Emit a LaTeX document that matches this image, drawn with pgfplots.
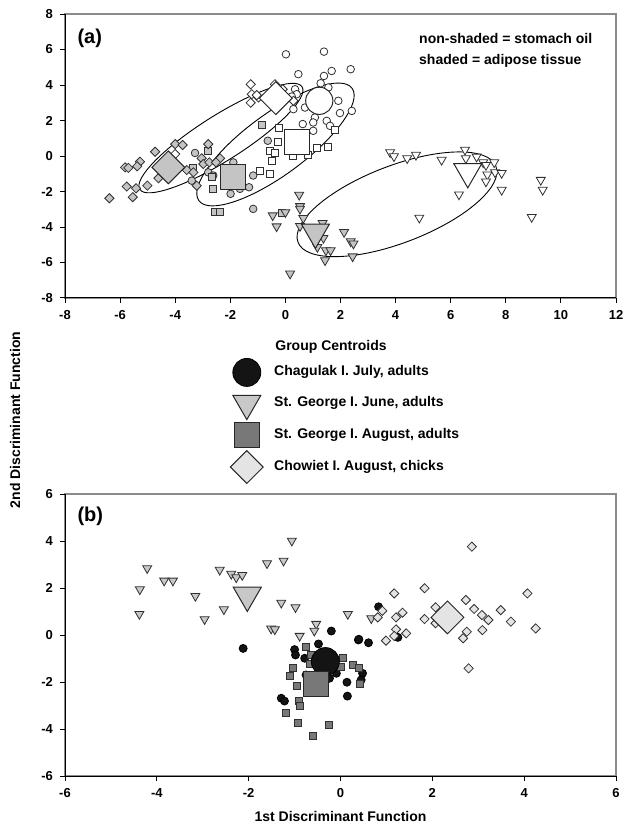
\documentclass[border=0pt]{standalone}
\usepackage{pgfplots}
\pgfplotsset{compat=1.18}
\usepackage{fontspec}
\setmainfont{Liberation Sans}

\definecolor{shd}{HTML}{C4C4C4}
\definecolor{edg}{HTML}{303030}
\definecolor{btri}{HTML}{C8C8C8}
\definecolor{bsq}{HTML}{787878}
\definecolor{bdia}{HTML}{E4E4E4}
\definecolor{frm}{HTML}{8C8C8C}

% down-pointing triangle and square diamond
\pgfdeclareplotmark{dtri}{%
  \pgfpathmoveto{\pgfqpoint{0pt}{-\pgfplotmarksize}}%
  \pgfpathlineto{\pgfqpoint{0.866\pgfplotmarksize}{0.5\pgfplotmarksize}}%
  \pgfpathlineto{\pgfqpoint{-0.866\pgfplotmarksize}{0.5\pgfplotmarksize}}%
  \pgfpathclose\pgfusepathqfillstroke}
\pgfdeclareplotmark{dmnd}{%
  \pgfpathmoveto{\pgfqpoint{0pt}{\pgfplotmarksize}}%
  \pgfpathlineto{\pgfqpoint{\pgfplotmarksize}{0pt}}%
  \pgfpathlineto{\pgfqpoint{0pt}{-\pgfplotmarksize}}%
  \pgfpathlineto{\pgfqpoint{-\pgfplotmarksize}{0pt}}%
  \pgfpathclose\pgfusepathqfillstroke}

\tikzset{ell/.style={black,line width=0.45pt}}
\pgfplotsset{
  panel/.style={
    scale only axis, width=275.5pt,
    axis lines*=left, tick align=outside, major tick length=2.5pt,
    axis line style={black,line width=0.5pt},
    tick style={black,line width=0.5pt},
    axis background/.style={draw=frm,line width=0.8pt},
    ticklabel style={font=\bfseries\fontsize{6.5}{7.5}\selectfont},
    /pgf/number format/assume math mode=true,
  },
  sm/.style={only marks, mark options={draw=edg,line width=0.4pt,fill=#1}},
  pc/.style={sm=#1, mark=*, mark size=1.9pt},
  pt/.style={sm=#1, mark=dtri, mark size=2.6pt},
  ps/.style={sm=#1, mark=square*, mark size=1.75pt},
  pd/.style={sm=#1, mark=dmnd, mark size=2.3pt},
  cen/.style={only marks, mark options={draw=black!85,line width=0.5pt,fill=#1}},
}

\begin{document}
\begin{tikzpicture}
\path[use as bounding box] (-32.5pt,-268pt) rectangle (280pt,149pt);

% ---------------- panel (a)
\begin{axis}[panel, at={(0pt,0pt)}, anchor=south west, height=142pt,
  xmin=-8, xmax=12, ymin=-8, ymax=8,
  xtick={-8,-6,...,12}, ytick={-8,-6,...,8}]
% stomach oil (white) and adipose tissue (shaded)
\addplot[pc=white] coordinates {
 (0.02,5.73) (1.40,5.88) (0.47,4.61) (1.40,4.51) (1.68,4.79) (2.37,4.89)
 (1.28,4.10) (1.56,3.86) (1.92,3.11) (2.41,2.54) (1.98,2.42) (0.71,2.73)
 (1.07,2.17) (1.01,1.89) (0.63,1.80) (1.01,1.42) (1.50,1.98) (1.62,1.70)
 (0.29,2.64) (0.35,3.76) (0.41,3.48) (0.23,3.35)};
\addplot[pc=shd] coordinates {
 (-3.28,0.17) (-3.40,-1.39) (-2.80,-0.92) (-2.62,-1.10) (-1.89,-0.36)
 (-1.17,-1.10) (-1.32,-1.76) (-1.99,-2.13) (-1.65,-1.85) (-1.17,-2.98)
 (-0.64,0.86)};
\addplot[ps=white] coordinates {
 (-0.22,1.61) (-0.26,0.77) (-0.58,0.30) (-0.38,0.17) (1.16,0.43) (1.56,0.54)
 (1.80,1.48) (-0.50,-0.26) (-0.92,-0.82) (-0.58,-1.01) (0.27,0.00) (0.82,0.05)};
\addplot[ps=shd] coordinates {
 (-2.80,0.30) (-2.62,-1.85) (-2.56,-3.17) (-2.37,-3.13) (-2.68,-1.20)
 (-3.34,-0.69) (-0.84,1.74) (-0.14,-3.20)};
\addplot[pd=white] coordinates {
 (-1.26,4.04) (-1.22,3.48) (-1.26,3.00) (-0.98,3.30) (-0.38,4.04)
 (-0.10,3.76) (0.29,3.11) (-4.00,0.11) (-1.04,3.43)};
\addplot[pd=shd] coordinates {
 (-4.73,0.24) (-4.00,0.67) (-3.73,0.62) (-2.80,0.67) (-5.28,-0.32)
 (-5.82,-0.64) (-5.70,-0.67) (-5.38,-0.58) (-5.76,-1.72) (-5.42,-1.82)
 (-5.54,-2.32) (-6.39,-2.38) (-5.01,-1.67) (-4.61,-1.25) (-3.58,-0.79)
 (-3.34,-0.92) (-3.04,-0.13) (-2.98,-0.45) (-2.76,-0.36) (-2.37,-0.13)
 (-2.52,-0.36) (-3.22,-1.67)};
\addplot[pt=white] coordinates {
 (3.80,0.21) (3.94,-0.02) (4.42,-0.13) (4.74,0.06) (5.67,-0.22) (6.52,0.35)
 (6.55,-0.13) (6.94,-0.04) (7.18,-0.36) (7.28,-0.51) (7.58,-0.36) (7.33,-1.05)
 (7.28,-1.44) (7.61,-0.92) (7.85,-0.96) (7.85,-1.91) (6.30,-2.17) (4.86,-3.48)
 (8.94,-3.44) (9.27,-1.35) (9.34,-1.91)};
\addplot[pt=shd] coordinates {
 (0.50,-2.19) (0.53,-2.83) (0.53,-2.98) (-0.46,-3.35) (-0.32,-3.97)
 (0.65,-3.50) (0.53,-3.95) (1.35,-3.78) (1.38,-4.62) (1.16,-5.13)
 (1.47,-5.32) (1.64,-5.32) (1.44,-5.88) (2.13,-4.29) (2.37,-4.81)
 (2.47,-4.94) (2.44,-5.66) (0.17,-6.63) (0.00,-3.17)};
% group centroids
\addplot[cen=white, mark=*, mark size=6.8pt] coordinates {(1.23,3.11)};
\addplot[cen=white, mark=square*, mark size=6.2pt] coordinates {(0.41,0.77)};
\addplot[cen=white, mark=dmnd, mark size=8.2pt] coordinates {(-0.35,3.26)};
\addplot[cen=white, mark=dtri, mark size=8.1pt] coordinates {(6.62,-0.88)};
\addplot[cen=shd, mark=dtri, mark size=8.1pt] coordinates {(1.09,-4.29)};
\addplot[cen=shd, mark=square*, mark size=6.2pt] coordinates {(-1.91,-1.20)};
\addplot[cen=shd, mark=dmnd, mark size=8.2pt] coordinates {(-4.25,-0.64)};
% confidence ellipses
\draw[ell, rotate around={32.3:(axis cs:-2.34,1.01)}] (axis cs:-2.34,1.01) ellipse [x radius=48pt, y radius=11.3pt];
\draw[ell, rotate around={36.3:(axis cs:-0.36,0.65)}] (axis cs:-0.36,0.65) ellipse [x radius=47.5pt, y radius=15.3pt];
\draw[ell, rotate around={21:(axis cs:4.05,-2.72)}] (axis cs:4.05,-2.72) ellipse [x radius=53pt, y radius=19.3pt];
\node[anchor=west, font=\bfseries\fontsize{10}{12}\selectfont] at (rel axis cs:0.01,0.915) {(a)};
\node[anchor=west, font=\bfseries\fontsize{7}{8.4}\selectfont] at (rel axis cs:0.63,0.915) {non-shaded = stomach oil};
\node[anchor=west, font=\bfseries\fontsize{7}{8.4}\selectfont] at (rel axis cs:0.63,0.835) {shaded = adipose tissue};
\end{axis}

% ---------------- panel (b)
\begin{axis}[panel, at={(0pt,-239pt)}, anchor=south west, height=141pt,
  xmin=-6, xmax=6, ymin=-6, ymax=6,
  xtick={-6,-4,...,6}, ytick={-6,-4,...,6},
  xlabel={1st Discriminant Function},
  xlabel style={font=\bfseries\fontsize{7}{8.4}\selectfont},
  legend style={at={(rel axis cs:0.2995,1.4876)}, anchor=north west, draw=none,
    fill=none, inner sep=0pt, row sep=0pt, column sep=3.5pt,
    nodes={minimum height=15.5pt},
    font=\bfseries\fontsize{7}{8.4}\selectfont},
  legend cell align=left]
\addplot[pt=btri, forget plot] coordinates {
 (-4.21,2.84) (-4.37,1.94) (-4.38,0.89) (-3.84,2.31) (-3.65,2.31) (-3.16,1.66)
 (-2.96,0.67) (-2.63,2.77) (-2.38,2.60) (-2.27,2.45) (-2.14,2.55) (-2.54,1.09)
 (-1.60,3.05) (-1.24,3.16) (-1.06,4.01) (-1.29,1.37) (-0.98,1.18) (-1.51,0.27)
 (-1.43,0.24) (-0.89,-0.04) (-0.53,0.47) (-0.57,0.18) (0.16,0.89) (0.67,0.71)};
\addplot[only marks, mark=*, mark size=2pt, mark options={draw=black,fill=black!92}, forget plot] coordinates {
 (-2.12,-0.57) (-1.00,-0.62) (-0.98,-0.85) (-0.78,-0.99) (-0.48,-0.38)
 (-0.20,0.17) (0.39,-0.21) (0.61,-0.33) (0.48,-1.63) (0.45,-1.91)
 (0.14,-2.01) (0.15,-2.60) (-1.29,-2.69) (-1.22,-2.81) (-0.09,-1.63)
 (-0.24,-1.84) (-0.75,-1.70) (0.83,1.20) (1.25,-0.10) (0.40,-0.18)};
\addplot[ps=bsq, forget plot] coordinates {
 (-0.75,-0.52) (-0.64,-0.85) (-0.67,-1.25) (-1.04,-1.42) (-1.11,-1.74)
 (-0.96,-2.16) (-0.91,-2.80) (-0.88,-3.01) (-1.20,-3.31) (-0.93,-3.73)
 (-0.25,-3.83) (-0.60,-4.30) (0.05,-0.98) (0.01,-1.36) (0.28,-1.26)
 (0.40,-1.42) (0.43,-2.09)};
\addplot[pd=bdia, forget plot] coordinates {
 (2.86,3.76) (1.83,1.99) (1.17,1.77) (4.07,1.77) (2.73,1.49) (2.07,1.18)
 (2.91,1.11) (3.49,1.06) (3.08,0.85) (3.22,0.64) (3.71,0.57) (4.25,0.28)
 (1.83,0.68) (1.35,0.95) (1.21,0.75) (0.91,1.03) (0.81,0.75) (2.07,0.50)
 (3.09,0.21) (1.21,0.24) (1.17,-0.04) (1.43,0.07) (0.99,-0.24) (2.75,0.14)
 (2.67,-0.14) (2.79,-1.42)};
% group centroids
\addplot[only marks, mark=*, mark size=7pt, mark options={draw=black,fill=black!92}] coordinates {(-0.33,-1.13)};
\addlegendentry{Chagulak I. July, adults}
\addplot[cen=btri, mark=dtri, mark size=8.1pt] coordinates {(-2.03,1.69)};
\addlegendentry{St. George I. June, adults}
\addplot[cen=bsq, mark=square*, mark size=6.2pt] coordinates {(-0.53,-2.10)};
\addlegendentry{St. George I. August, adults}
\addplot[cen=bdia, mark=dmnd, mark size=8.2pt] coordinates {(2.33,0.75)};
\addlegendentry{Chowiet I. August, chicks}
\node[anchor=west, font=\bfseries\fontsize{10}{12}\selectfont] at (rel axis cs:0.01,0.922) {(b)};
\end{axis}

\node[anchor=west, inner sep=0pt, font=\bfseries\fontsize{7}{8.4}\selectfont] at (105pt,-24.5pt) {Group Centroids};
\node[rotate=90, font=\bfseries\fontsize{7}{8.4}\selectfont] at (-25pt,-61pt) {2nd Discriminant Function};
\end{tikzpicture}
\end{document}
